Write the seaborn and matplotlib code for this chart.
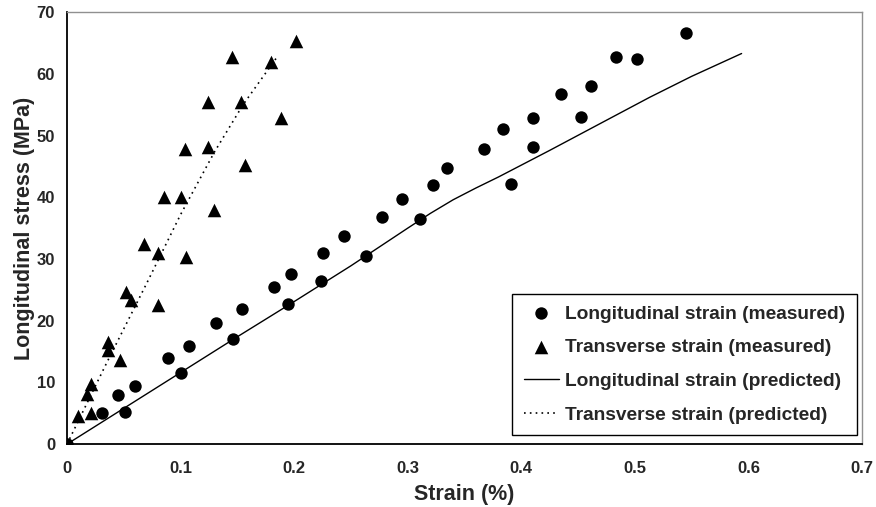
import matplotlib
matplotlib.use("Agg")
import matplotlib.pyplot as plt
import seaborn as sns
import pandas as pd

# measured longitudinal strain (%) vs stress (MPa)
long_strain = [0, 0.031, 0.045, 0.051, 0.060, 0.089, 0.100, 0.107, 0.131, 0.146, 0.154,
               0.182, 0.195, 0.197, 0.224, 0.225, 0.244, 0.263, 0.277, 0.295, 0.311,
               0.322, 0.335, 0.367, 0.384, 0.391, 0.410, 0.410, 0.435, 0.453, 0.461,
               0.483, 0.502, 0.545]
long_stress = [0, 5.1, 8.0, 5.2, 9.4, 13.9, 11.6, 15.9, 19.6, 17.0, 21.9,
               25.4, 22.7, 27.6, 26.5, 31.0, 33.7, 30.5, 36.8, 39.7, 36.5,
               42.0, 44.8, 47.8, 51.0, 42.2, 52.9, 48.2, 56.7, 53.0, 58.0,
               62.7, 62.4, 66.6]

# measured transverse strain
trans_strain = [0, 0.010, 0.018, 0.021, 0.021, 0.036, 0.036, 0.047, 0.052, 0.056,
                0.068, 0.080, 0.080, 0.085, 0.100, 0.104, 0.105, 0.124, 0.124, 0.129,
                0.145, 0.153, 0.157, 0.180, 0.188, 0.202]
trans_stress = [0, 4.5, 8.1, 9.8, 5.1, 16.6, 15.2, 13.6, 24.7, 23.3,
                32.4, 30.9, 22.6, 40.1, 40.1, 47.8, 30.4, 55.4, 48.2, 37.9,
                62.8, 55.5, 45.2, 61.9, 52.9, 65.4]

# predicted curves
pred_long_strain = [0, 0.05, 0.10, 0.15, 0.20, 0.25, 0.30, 0.32, 0.34, 0.36, 0.38, 0.425, 0.47, 0.513, 0.55, 0.594]
pred_long_stress = [0, 5.8, 11.6, 17.4, 23.1, 28.9, 35.0, 37.4, 39.6, 41.5, 43.3, 47.6, 52.0, 56.2, 59.6, 63.3]
pred_trans_strain = [0, 0.035, 0.070, 0.100, 0.130, 0.155, 0.186]
pred_trans_stress = [0, 13.2, 26.0, 37.2, 47.4, 55.0, 63.0]

x_ticks = [0, 0.1, 0.2, 0.3, 0.4, 0.5, 0.6, 0.7]
x_tick_labels = ["0", "0.1", "0.2", "0.3", "0.4", "0.5", "0.6", "0.7"]
y_ticks = [0, 10, 20, 30, 40, 50, 60, 70]

sns.set_style("white")
plt.rcParams["font.family"] = ["Liberation Sans", "DejaVu Sans"]
plt.rcParams["font.weight"] = "bold"

fig = plt.figure(figsize=(8.76, 5.07), dpi=100)
ax = fig.add_axes([0.0765, 0.124, 0.9075, 0.852])

df_long = pd.DataFrame({"strain": long_strain, "stress": long_stress})
df_trans = pd.DataFrame({"strain": trans_strain, "stress": trans_stress})
df_pl = pd.DataFrame({"strain": pred_long_strain, "stress": pred_long_stress})
df_pt = pd.DataFrame({"strain": pred_trans_strain, "stress": pred_trans_stress})

sns.scatterplot(data=df_long, x="strain", y="stress", marker="o", s=80, color="black",
                edgecolor="black", linewidth=0, ax=ax, label="Longitudinal strain (measured)", zorder=3)
sns.scatterplot(data=df_trans, x="strain", y="stress", marker="^", s=95, color="black",
                edgecolor="black", linewidth=0, ax=ax, label="Transverse strain (measured)", zorder=3)
sns.lineplot(data=df_pl, x="strain", y="stress", color="black", linewidth=1.0, sort=False,
             ax=ax, label="Longitudinal strain (predicted)")
sns.lineplot(data=df_pt, x="strain", y="stress", color="black", linewidth=1.2, sort=False,
             linestyle=(0, (1, 2.5)), ax=ax, label="Transverse strain (predicted)")

ax.set_xlim(0, 0.7)
ax.set_ylim(0, 70)
ax.set_xticks(x_ticks)
ax.set_xticklabels(x_tick_labels)
ax.set_yticks(y_ticks)
ax.tick_params(axis="both", direction="out", length=3.6, width=1, color="black", labelsize=12)
ax.tick_params(axis="x", pad=8.5)
ax.tick_params(axis="y", pad=5)
for lab in ax.get_xticklabels() + ax.get_yticklabels():
    lab.set_fontweight("bold")

ax.set_xlabel("Strain (%)", fontsize=15.5, fontweight="bold", labelpad=6)
ax.set_ylabel("Longitudinal stress (MPa)", fontsize=15.5, fontweight="bold", labelpad=1)

for side in ["left", "bottom"]:
    ax.spines[side].set_color("black")
    ax.spines[side].set_linewidth(1.3)
for side in ["top", "right"]:
    ax.spines[side].set_color("#909090")
    ax.spines[side].set_linewidth(1.0)

leg = ax.legend(loc="lower right", bbox_to_anchor=(0.9933, 0.0208), borderaxespad=0,
                frameon=True, fancybox=False, edgecolor="black", framealpha=1,
                prop={"weight": "bold", "size": 13.8},
                handlelength=1.84, labelspacing=0.85, borderpad=0.6, handletextpad=0.31)
leg.get_frame().set_linewidth(1.0)

fig.savefig("out.png", dpi=100)
